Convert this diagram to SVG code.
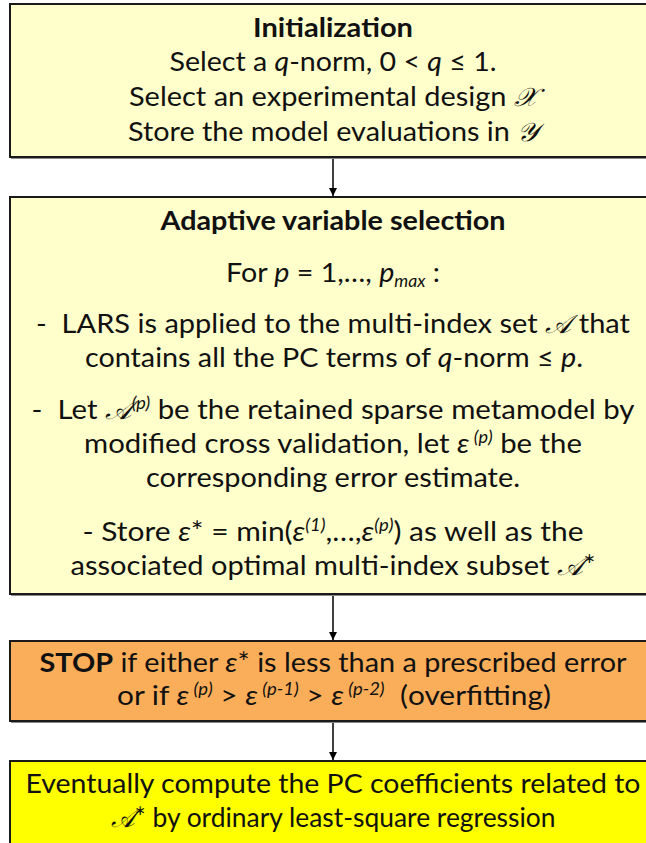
<svg xmlns="http://www.w3.org/2000/svg" width="646" height="843" viewBox="0 0 646 843">
<defs>
<style>
text{font-family:Lato,"Open Sans","Liberation Sans",sans-serif;font-size:27.5px;fill:#111;text-anchor:middle}
.b{font-weight:bold}
.i{font-style:italic}
.m{font-family:"DejaVu Serif","Liberation Serif",serif;font-style:italic;font-size:26px}
.s{font-size:17px;font-style:italic}
.box{stroke:#1a1a1a;stroke-width:2}
.sh{fill:#8a8a8a}
.conn line{stroke:#000;stroke-width:1.5}
</style>
<marker id="ah" viewBox="0 0 10 10" refX="10" refY="5" markerWidth="8" markerHeight="8" markerUnits="userSpaceOnUse" orient="auto">
<path d="M0,0 L10,5 L0,10 z" fill="#000"/>
</marker>
</defs>
<rect width="646" height="843" fill="#fff"/>
<g class="conn">
<line x1="333" y1="158" x2="333" y2="196" marker-end="url(#ah)"/>
<line x1="333" y1="595" x2="333" y2="640" marker-end="url(#ah)"/>
<line x1="333" y1="722" x2="333" y2="760" marker-end="url(#ah)"/>
</g>
<g id="init">
<rect class="sh" x="11" y="6" width="646" height="153"/>
<rect class="box" x="10" y="4" width="646" height="153" fill="#FFFFCC"/>
<text class="b" x="333" y="37" textLength="160" lengthAdjust="spacingAndGlyphs">Initialization</text>
<text x="333" y="71" textLength="327" lengthAdjust="spacingAndGlyphs">Select a <tspan class="i">q</tspan>-norm, 0 &lt; <tspan class="i">q</tspan> ≤ 1.</text>
<text x="333" y="106" textLength="408" lengthAdjust="spacingAndGlyphs">Select an experimental design <tspan class="m">𝒳</tspan></text>
<text x="333" y="141" textLength="410" lengthAdjust="spacingAndGlyphs">Store the model evaluations in <tspan class="m">𝒴</tspan></text>
</g>
<g id="adaptive">
<rect class="sh" x="11" y="199" width="646" height="397"/>
<rect class="box" x="10" y="197" width="646" height="397" fill="#FFFFCC"/>
<text class="b" x="333" y="230" textLength="345" lengthAdjust="spacingAndGlyphs">Adaptive variable selection</text>
<text x="333" y="282" textLength="214" lengthAdjust="spacingAndGlyphs">For <tspan class="i">p</tspan> = 1,…, <tspan class="i">p</tspan><tspan class="s" dy="5">max</tspan><tspan dy="-5"> :</tspan></text>
<text x="333" y="333" textLength="594" lengthAdjust="spacingAndGlyphs">-&#160; LARS is applied to the multi-index set <tspan class="m">𝒜</tspan> that</text>
<text x="334" y="367" textLength="498" lengthAdjust="spacingAndGlyphs">contains all the PC terms of <tspan class="i">q</tspan>-norm ≤ <tspan class="i">p</tspan>.</text>
<text x="333" y="419" textLength="603" lengthAdjust="spacingAndGlyphs">-&#160; Let <tspan class="m">𝒜</tspan><tspan class="s" dy="-10">(p)</tspan><tspan dy="10"> be the retained sparse metamodel by</tspan></text>
<text x="333" y="453" textLength="498" lengthAdjust="spacingAndGlyphs">modified cross validation, let <tspan class="i">ε</tspan><tspan class="s" dy="-10"> (p)</tspan><tspan dy="10"> be the</tspan></text>
<text x="333" y="487" textLength="374" lengthAdjust="spacingAndGlyphs">corresponding error estimate.</text>
<text x="333" y="541" textLength="501" lengthAdjust="spacingAndGlyphs">- Store <tspan class="i">ε</tspan>* = min(<tspan class="i">ε</tspan><tspan class="s" dy="-10">(1)</tspan><tspan dy="10">,…,</tspan><tspan class="i">ε</tspan><tspan class="s" dy="-10">(p)</tspan><tspan dy="10">) as well as the</tspan></text>
<text x="333" y="575" textLength="525" lengthAdjust="spacingAndGlyphs">associated optimal multi-index subset <tspan class="m">𝒜</tspan>*</text>
</g>
<g id="stop">
<rect class="sh" x="11" y="643" width="646" height="80"/>
<rect class="box" x="10" y="641" width="646" height="80" fill="#FBAE59"/>
<text x="333" y="672" textLength="587" lengthAdjust="spacingAndGlyphs"><tspan class="b">STOP</tspan> if either <tspan class="i">ε</tspan>* is less than a prescribed error</text>
<text x="334" y="705" textLength="434" lengthAdjust="spacingAndGlyphs">or if <tspan class="i">ε</tspan><tspan class="s" dy="-10"> (p)</tspan><tspan dy="10"> &gt; </tspan><tspan class="i">ε</tspan><tspan class="s" dy="-10"> (p-1)</tspan><tspan dy="10"> &gt; </tspan><tspan class="i">ε</tspan><tspan class="s" dy="-10"> (p-2)</tspan><tspan dy="10">&#160; (overfitting)</tspan></text>
</g>
<g id="final">
<rect class="sh" x="11" y="763" width="646" height="100"/>
<rect class="box" x="10" y="761" width="646" height="100" fill="#FFFF00"/>
<text x="333" y="793" textLength="615" lengthAdjust="spacingAndGlyphs">Eventually compute the PC coefficients related to</text>
<text x="333" y="827" textLength="445" lengthAdjust="spacingAndGlyphs"><tspan class="m">𝒜</tspan>* by ordinary least-square regression</text>
</g>
</svg>
